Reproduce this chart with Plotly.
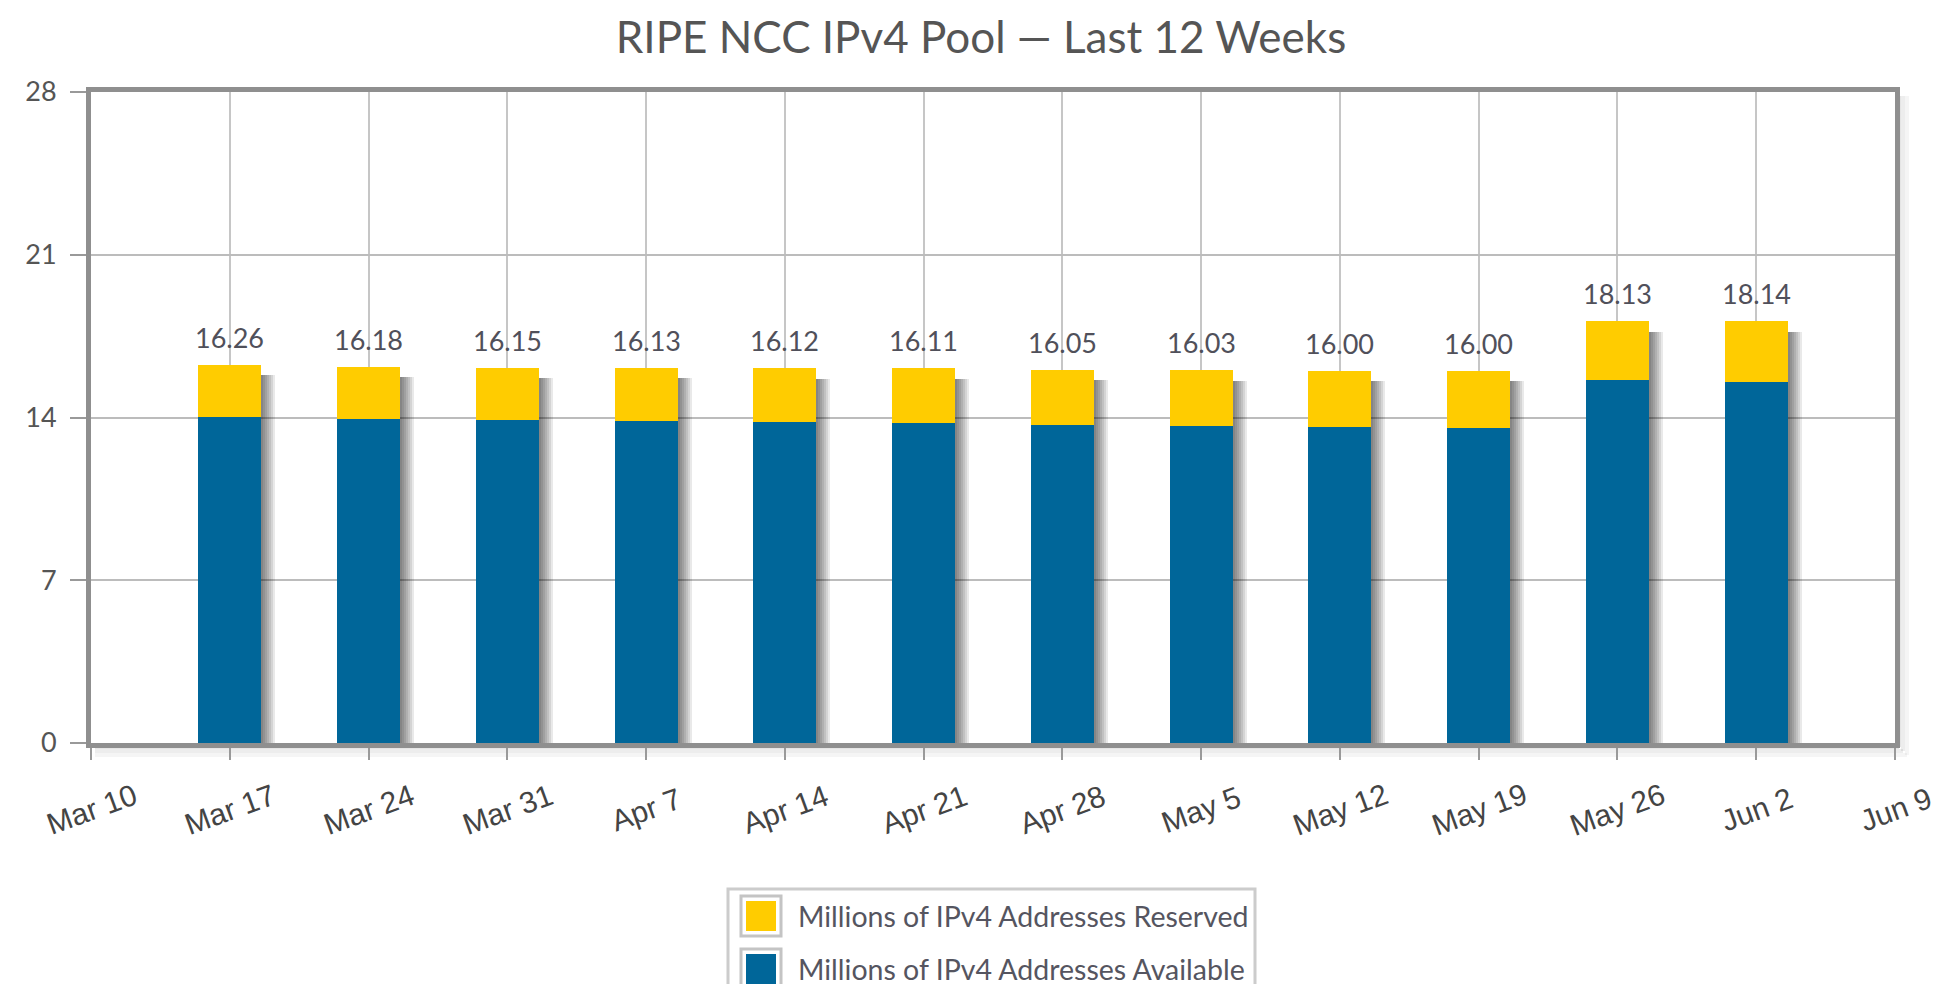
import plotly.graph_objects as go
import pandas as pd

# ---------------- data ----------------
weeks = ["2013-03-17", "2013-03-24", "2013-03-31", "2013-04-07", "2013-04-14", "2013-04-21",
         "2013-04-28", "2013-05-05", "2013-05-12", "2013-05-19", "2013-05-26", "2013-06-02"]
available = [14.04, 13.94, 13.91, 13.85, 13.79, 13.78, 13.68, 13.62, 13.61, 13.54, 15.62, 15.54]
reserved = [2.22, 2.24, 2.24, 2.28, 2.33, 2.33, 2.37, 2.41, 2.39, 2.46, 2.51, 2.60]
totals = [16.26, 16.18, 16.15, 16.13, 16.12, 16.11, 16.05, 16.03, 16.00, 16.00, 18.13, 18.14]

tick_dates = ["2013-03-10", "2013-03-17", "2013-03-24", "2013-03-31", "2013-04-07", "2013-04-14",
              "2013-04-21", "2013-04-28", "2013-05-05", "2013-05-12", "2013-05-19", "2013-05-26",
              "2013-06-02", "2013-06-09"]
tick_labels = ["Mar 10", "Mar 17", "Mar 24", "Mar 31", "Apr 7", "Apr 14", "Apr 21", "Apr 28",
               "May 5", "May 12", "May 19", "May 26", "Jun 2", "Jun 9"]
y_ticks = [0, 7, 14, 21, 28]

series_names = ["Millions of IPv4 Addresses Reserved", "Millions of IPv4 Addresses Available"]
title_text = "RIPE NCC IPv4 Pool \u2014 Last 12 Weeks"

# ---------------- style ----------------
W, H = 1946, 984
ML, MR, MT, MB = 83, 59, 84, 249
PW, PH = W - ML - MR, H - MT - MB
YELLOW = "#FFCC00"
BLUE = "#006699"
TREB = "Lato, 'Open Sans', sans-serif"

x_dates = pd.to_datetime(weeks)
px_ms = (pd.Timestamp(tick_dates[-1]) - pd.Timestamp(tick_dates[0])).total_seconds() * 1000 / PW
bar_w = 63 * px_ms


def px2x(px):
    return (px - ML) / PW


def px2y(py):
    return (H - MB - py) / PH


fig = go.Figure()

# soft drop shadows to the right of each bar
for off in [2, 4, 6, 8, 10, 12, 14]:
    fig.add_trace(go.Bar(
        x=[d + pd.Timedelta(milliseconds=off * px_ms) for d in x_dates],
        y=[t - 0.45 for t in totals],
        base=0,
        width=bar_w,
        marker=dict(color="rgba(0,0,0,0.085)", line=dict(width=0)),
        hoverinfo="skip",
        showlegend=False,
    ))

fig.add_trace(go.Bar(
    x=x_dates, y=available, base=0, width=bar_w, name=series_names[1],
    marker=dict(color=BLUE, line=dict(width=0)), showlegend=False,
))
fig.add_trace(go.Bar(
    x=x_dates, y=reserved, base=available, width=bar_w, name=series_names[0],
    marker=dict(color=YELLOW, line=dict(width=0)), showlegend=False,
))

annotations = []
# value labels above bars
for d, t in zip(x_dates, totals):
    annotations.append(dict(
        x=d, y=t, xref="x", yref="y", text=f"{t:.2f}", showarrow=False,
        yanchor="bottom", yshift=9, font=dict(family=TREB, size=27, color="#50505a"),
    ))
# rotated x tick labels, centred under their ticks
for d, lab in zip(tick_dates, tick_labels):
    annotations.append(dict(
        x=pd.Timestamp(d), y=px2y(801), xref="x", yref="paper", text=lab, showarrow=False,
        xanchor="center", yanchor="middle", textangle=-20,
        font=dict(family="'Liberation Sans', Arial, sans-serif", size=30, color="#444444"),
    ))

# manual legend
shapes = []
lx0, lx1, ly0, ly1 = 720, 1247, 881, 995
shapes.append(dict(type="rect", xref="paper", yref="paper",
                   x0=px2x(lx0), x1=px2x(lx1), y0=px2y(ly0), y1=px2y(ly1),
                   line=dict(color="#cccccc", width=3), fillcolor="white", layer="above"))
rows = [(908, YELLOW, series_names[0]), (961, BLUE, series_names[1])]
for cy, col, name in rows:
    shapes.append(dict(type="rect", xref="paper", yref="paper",
                       x0=px2x(733), x1=px2x(773), y0=px2y(cy + 20), y1=px2y(cy - 20),
                       line=dict(color="#c4c4c4", width=3), fillcolor="white", layer="above"))
    shapes.append(dict(type="rect", xref="paper", yref="paper",
                       x0=px2x(738), x1=px2x(768), y0=px2y(cy + 15), y1=px2y(cy - 15),
                       line=dict(width=0), fillcolor=col, layer="above"))
    annotations.append(dict(x=px2x(788), y=px2y(cy), xref="paper", yref="paper", text=name,
                            showarrow=False, xanchor="left", yanchor="middle",
                            font=dict(family=TREB, size=28.5, color="#555560")))

# plot-box shadow (right and bottom)
for k, a in [(4, 0.10), (8, 0.07), (12, 0.04)]:
    shapes.append(dict(type="line", xref="paper", yref="paper",
                       x0=1 + k / PW, x1=1 + k / PW, y0=-k / PH, y1=1 - 4 / PH,
                       line=dict(color=f"rgba(0,0,0,{a})", width=4), layer="below"))
    shapes.append(dict(type="line", xref="paper", yref="paper",
                       x0=4 / PW, x1=1 + k / PW, y0=-k / PH, y1=-k / PH,
                       line=dict(color=f"rgba(0,0,0,{a})", width=4), layer="below"))

fig.update_layout(
    width=W, height=H,
    margin=dict(l=ML, r=MR, t=MT, b=MB, autoexpand=False),
    paper_bgcolor="white", plot_bgcolor="white",
    barmode="overlay", bargap=0,
    title=dict(text=title_text, x=0.5, xref="container", y=1 - 30 / H, yref="container",
               xanchor="center", yanchor="middle",
               font=dict(family=TREB, size=44, color="#555555")),
    xaxis=dict(
        type="date", range=[tick_dates[0], tick_dates[-1]],
        tickvals=tick_dates, showticklabels=False,
        showgrid=True, gridcolor="#c6c6c6", gridwidth=2,
        ticks="outside", ticklen=12, tickwidth=2, tickcolor="#999999",
        showline=True, linecolor="#8f8f8f", linewidth=5, mirror=True,
        zeroline=False, fixedrange=True,
    ),
    yaxis=dict(
        range=[0, 28], tickvals=y_ticks, ticktext=[str(v) for v in y_ticks],
        showgrid=True, gridcolor="#bcbcbc", gridwidth=2,
        ticks="outside", ticklen=16, tickwidth=2, tickcolor="#999999",
        ticklabelstandoff=8,
        tickfont=dict(family=TREB, size=27, color="#555555"),
        showline=True, linecolor="#8f8f8f", linewidth=5, mirror=True,
        zeroline=False, fixedrange=True,
    ),
    annotations=annotations,
    shapes=shapes,
    showlegend=False,
)

fig.write_html("out.html")
